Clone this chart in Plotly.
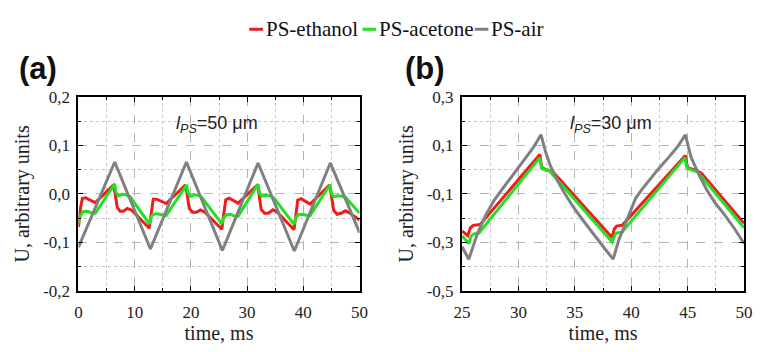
import plotly.graph_objects as go

# ---------------- data: panel (a), l_PS = 50 um ----------------
eth_a_t = [0.0, 0.35, 0.7, 1.3, 1.9, 3.0, 6.2, 6.5, 6.9, 7.4, 8.0, 8.7, 9.5, 12.6,
           12.95, 13.3, 13.9, 14.6, 15.6, 19.0, 19.3, 19.7, 20.3, 21.0, 21.7, 22.4, 25.5,
           25.8, 26.2, 26.8, 27.5, 28.4, 31.9, 32.15, 32.5, 33.1, 33.8, 34.6, 35.3, 38.35,
           38.6, 39.0, 39.6, 40.3, 41.2, 44.7, 45.0, 45.4, 46.0, 46.7, 47.5, 48.3, 50.0]
eth_a_v = [-0.068, -0.030, -0.009, -0.008, -0.012, -0.018, 0.018, 0.002, -0.028, -0.036, -0.036, -0.030, -0.034, -0.071,
           -0.040, -0.011, -0.011, -0.015, -0.020, 0.018, 0.002, -0.030, -0.038, -0.038, -0.033, -0.037, -0.073,
           -0.045, -0.012, -0.009, -0.013, -0.019, 0.019, 0.000, -0.032, -0.040, -0.040, -0.033, -0.037, -0.074,
           -0.045, -0.013, -0.010, -0.015, -0.021, 0.019, 0.000, -0.034, -0.042, -0.040, -0.035, -0.040, -0.054]

ace_a_t = [0.0, 0.35, 0.8, 1.6, 2.4, 3.0, 6.45, 6.65, 7.1, 7.8, 8.5, 9.2, 12.6,
           12.9, 13.3, 14.0, 14.8, 15.6, 19.25, 19.45, 19.9, 20.6, 21.3, 22.0, 25.5,
           25.8, 26.3, 27.0, 27.8, 28.4, 31.95, 32.2, 32.6, 33.3, 34.1, 34.8, 38.35,
           38.65, 39.1, 39.8, 40.5, 41.2, 44.75, 44.95, 45.4, 46.1, 46.9, 47.6, 50.0]
ace_a_v = [-0.060, -0.045, -0.037, -0.036, -0.040, -0.040, 0.021, 0.004, -0.004, -0.001, -0.002, -0.006, -0.062,
           -0.048, -0.042, -0.041, -0.043, -0.045, 0.019, 0.003, -0.005, -0.002, -0.003, -0.008, -0.062,
           -0.050, -0.043, -0.042, -0.046, -0.046, 0.020, 0.002, -0.005, -0.003, -0.004, -0.009, -0.063,
           -0.050, -0.043, -0.042, -0.044, -0.045, 0.019, 0.002, -0.006, -0.004, -0.005, -0.008, -0.040]

air_a_t = [0.0, 6.45, 12.8, 19.2, 25.6, 31.95, 38.4, 44.8, 50.0]
air_a_v = [-0.110, 0.066, -0.114, 0.066, -0.117, 0.064, -0.118, 0.064, -0.080]

# ---------------- data: panel (b), l_PS = 30 um ----------------
eth_b_t = [25.0, 25.5, 25.75, 26.0, 26.6, 31.9, 32.05, 32.4, 33.0, 38.3,
           38.5, 38.7, 39.2, 44.8, 45.0, 45.6, 46.2, 50.0]
eth_b_v = [-0.253, -0.273, -0.240, -0.230, -0.227, 0.063, 0.011, 0.000, -0.006, -0.280,
           -0.245, -0.233, -0.230, 0.059, 0.007, 0.000, -0.013, -0.222]

ace_b_t = [25.0, 25.6, 25.8, 26.0, 26.5, 31.9, 32.05, 32.3, 32.7, 38.3,
           38.55, 38.7, 39.2, 44.75, 44.95, 45.3, 45.9, 50.0]
ace_b_v = [-0.273, -0.305, -0.275, -0.266, -0.262, 0.050, 0.007, 0.000, -0.002, -0.299,
           -0.270, -0.262, -0.257, 0.050, 0.007, 0.000, -0.010, -0.240]

air_b_t = [25.0, 25.3, 25.6, 26.0, 26.4, 27.1, 27.8, 28.5, 29.2, 29.9, 30.6, 31.3, 32.0,
           32.4, 32.8, 33.4, 34.0, 34.8, 35.7, 36.4, 37.1, 37.8, 38.4,
           38.9, 39.5, 40.4, 41.0, 41.7, 42.5, 43.3, 44.1, 44.8,
           45.3, 46.0, 46.7, 47.4, 48.2, 49.1, 50.0]
air_b_v = [-0.319, -0.345, -0.370, -0.315, -0.260, -0.188, -0.130, -0.084, -0.040, 0.000, 0.045, 0.090, 0.145,
           0.075, 0.020, -0.040, -0.090, -0.150, -0.208, -0.252, -0.293, -0.335, -0.370,
           -0.290, -0.221, -0.117, -0.078, -0.036, 0.008, 0.050, 0.095, 0.144,
           0.052, -0.020, -0.084, -0.135, -0.182, -0.240, -0.305]

series_names = ["PS-ethanol", "PS-acetone", "PS-air"]
series_colors = ["#ee1c1c", "#22e022", "#808080"]

# ticks
xa_ticks = [0, 10, 20, 30, 40, 50]
xa_labels = ["0", "10", "20", "30", "40", "50"]
xa_minor = [5, 15, 25, 35, 45]
ya_ticks = [-0.2, -0.1, 0.0, 0.1, 0.2]
ya_labels = ["-0,2", "-0,1", "0,0", "0,1", "0,2"]
ya_minor = [-0.15, -0.05, 0.05, 0.15]

xb_ticks = [25, 30, 35, 40, 45, 50]
xb_labels = ["25", "30", "35", "40", "45", "50"]
xb_minor = [27.5, 32.5, 37.5, 42.5, 47.5]
yb_ticks = [-0.5, -0.3, -0.1, 0.1, 0.3]
yb_labels = ["-0,5", "-0,3", "-0,1", "0,1", "0,3"]
yb_minor = [-0.4, -0.2, 0.0, 0.2]

# The page keeps the browser's default 8px body margin, so the figure is
# 16px smaller than the window and every position is given relative to it.
PAD = 8
W, H = 763 - 2 * PAD, 352 - 2 * PAD
SERIF = "Liberation Serif, 'Times New Roman', Times, serif"
SANS = "Liberation Sans, Arial, Helvetica, sans-serif"


def px(x):
    return (x - PAD) / W


def py(y):
    return 1 - (y - PAD) / H


fig = go.Figure()

panel_a = [(eth_a_t, eth_a_v), (ace_a_t, ace_a_v), (air_a_t, air_a_v)]
panel_b = [(eth_b_t, eth_b_v), (ace_b_t, ace_b_v), (air_b_t, air_b_v)]
for (t, v), name, col in zip(panel_a, series_names, series_colors):
    fig.add_trace(go.Scatter(x=t, y=v, mode="lines", name=name, showlegend=False,
                             line=dict(color=col, width=3), xaxis="x", yaxis="y"))
for (t, v), name, col in zip(panel_b, series_names, series_colors):
    fig.add_trace(go.Scatter(x=t, y=v, mode="lines", name=name, showlegend=False,
                             line=dict(color=col, width=3), xaxis="x2", yaxis="y2"))


def axis(domain, rng, ticks, labels, minor, title, anchor, is_y):
    d = dict(
        domain=domain, range=rng, anchor=anchor,
        tickmode="array", tickvals=ticks, ticktext=labels,
        ticks="inside", ticklen=5, tickwidth=1, tickcolor="black",
        showline=True, linecolor="black", linewidth=2, mirror="allticks",
        showgrid=True, gridcolor="#b4b4b4", gridwidth=1, griddash="dash",
        zeroline=False, ticklabeloverflow="allow",
        tickfont=dict(family=SERIF, size=17, color="#222"),
        minor=dict(tickmode="array", tickvals=minor, ticks="inside", ticklen=3,
                   tickcolor="black", showgrid=True, gridcolor="#c8c8c8",
                   griddash="dot", gridwidth=1),
        title=dict(text=title, font=dict(family=SERIF, size=20, color="#222")),
        fixedrange=True,
    )
    if is_y:
        d["ticklabelstandoff"] = 3
        d["title"]["standoff"] = 8
    else:
        d["ticklabelstandoff"] = 5
        d["title"]["standoff"] = 6
    return d


ytop, ybot = py(93), py(298)
fig.update_layout(
    width=W, height=H,
    margin=dict(l=0, r=0, t=0, b=0),
    paper_bgcolor="white", plot_bgcolor="white",
    showlegend=False,
    font=dict(family=SERIF),
    xaxis=axis([px(71), px(359)], [0, 50], xa_ticks, xa_labels, xa_minor, "time, ms", "y", False),
    yaxis=axis([ybot, ytop], [-0.2, 0.2], ya_ticks, ya_labels, ya_minor, "U, arbitrary units", "x", True),
    xaxis2=axis([px(464), px(753)], [25, 50], xb_ticks, xb_labels, xb_minor, "time, ms", "y2", False),
    yaxis2=axis([ybot, ytop], [-0.5, 0.3], yb_ticks, yb_labels, yb_minor, "U, arbitrary units", "x2", True),
)

# manual legend (short line + serif text)
leg_y = py(21)
leg_items = [(246, 260), (362, 376), (477, 491)]
for (x0, x1), name, col in zip(leg_items, series_names, series_colors):
    fig.add_shape(type="line", xref="paper", yref="paper", x0=px(x0), x1=px(x1),
                  y0=leg_y, y1=leg_y, line=dict(color=col, width=3))
    fig.add_annotation(xref="paper", yref="paper", x=px(x1 + 1), y=leg_y, text=name,
                       showarrow=False, xanchor="left", yanchor="middle",
                       font=dict(family=SERIF, size=21, color="#111"))

# panel letters
for txt, x in [("(a)", 8), ("(b)", 404)]:
    fig.add_annotation(xref="paper", yref="paper", x=px(x), y=py(63), text="<b>" + txt + "</b>",
                       showarrow=False, xanchor="left", yanchor="middle",
                       font=dict(family=SANS, size=31, color="#111"))

# thickness labels
for txt, x in [("<i>l</i><sub><i>PS</i></sub>=50 \u03bcm", 213), ("<i>l</i><sub><i>PS</i></sub>=30 \u03bcm", 617)]:
    fig.add_annotation(xref="paper", yref="paper", x=px(x), y=py(122), text=txt,
                       showarrow=False, xanchor="center", yanchor="middle",
                       font=dict(family=SANS, size=18, color="#222"))

fig.write_html("out.html", config={"displayModeBar": False})
